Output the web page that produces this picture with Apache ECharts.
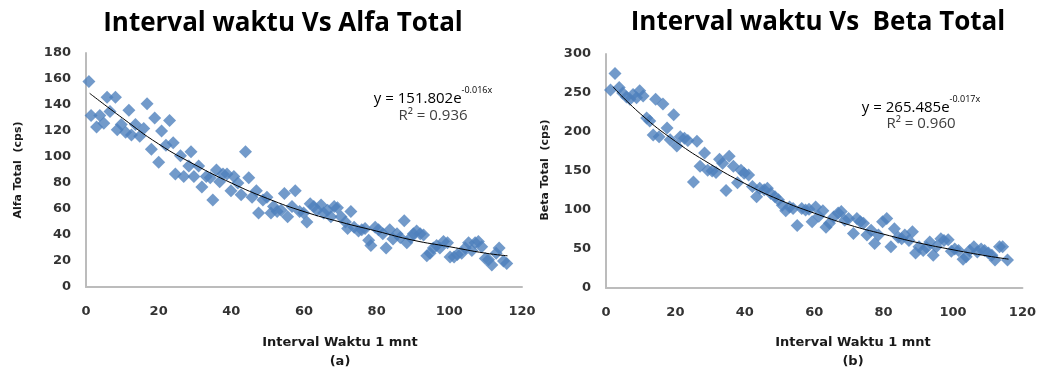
<!DOCTYPE html>
<html>
<head>
<meta charset="utf-8">
<script src="https://cdn.jsdelivr.net/npm/echarts@6/dist/echarts.min.js"></script>
<style>
  html, body { margin: 0; padding: 0; background: #fff; }
  #chart { width: 1039px; height: 372px; }
</style>
</head>
<body>
<div id="chart"></div>
<script>
// Alfa total (cps) vs interval
const alfaPoints = [
  [0.8, 158], [1.4, 132], [2.9, 123], [3.8, 132], [4.9, 126], [5.8, 146], [6.6, 135], [8.1, 146],
  [8.6, 121], [9.7, 125], [10.9, 119], [11.8, 136], [12.5, 117], [13.6, 125], [14.8, 116], [15.9, 122],
  [16.8, 141], [18, 106], [18.9, 130], [20, 96], [20.8, 120], [22, 109], [23, 128], [24, 111],
  [24.6, 87], [26, 101], [26.9, 85], [28.3, 93], [28.9, 104], [29.7, 85], [31, 93], [31.9, 77],
  [33.1, 85], [34.2, 84], [34.9, 67], [35.9, 90], [36.8, 81], [37.7, 87], [38.8, 87], [39.9, 74],
  [40.7, 85], [41.8, 80], [42.7, 71], [43.9, 104], [44.8, 84], [45.7, 69], [46.9, 74], [47.5, 57],
  [48.7, 67], [49.8, 69], [50.9, 57], [51.6, 62], [52.6, 58], [53.7, 59], [54.6, 72], [55.5, 54],
  [56.7, 62], [57.6, 74], [58.8, 58], [59.9, 57], [60.8, 50], [61.7, 64], [62.7, 62], [63.6, 59],
  [64.7, 63], [65.4, 57], [66.5, 59], [67.4, 54], [68.3, 62], [69.2, 61], [70.2, 54], [71.4, 50],
  [72, 45], [72.9, 58], [73.8, 46], [75, 43], [75.9, 44], [76.8, 45], [77.8, 36], [78.4, 32],
  [79.6, 46], [80.5, 44], [81.7, 41], [82.6, 30], [83.6, 44], [84.5, 37], [85.6, 41], [86.5, 38],
  [87.6, 51], [88.3, 34], [89.4, 38], [90.1, 41], [91, 43], [92, 41], [92.9, 40], [93.8, 24],
  [94.7, 26], [95.6, 30], [96.5, 32], [97.4, 30], [98.4, 35], [99.5, 34], [100.2, 23], [101.3, 23],
  [102.2, 25], [103.4, 26], [104.4, 30], [105.3, 34], [106.2, 28], [107.1, 34], [108, 35], [108.9, 31],
  [109.9, 22], [110.8, 21], [111.7, 17], [112.9, 26], [113.7, 30], [114.9, 20], [115.8, 18]
];

// Beta total (cps) vs interval
const betaPoints = [
  [1.3, 254], [2.6, 275], [3.8, 257], [4.8, 250], [5.9, 245], [6.9, 242], [7.8, 248], [8.8, 244],
  [9.7, 253], [10.7, 246], [11.7, 218], [12.6, 214], [13.6, 196], [14.3, 242], [15.3, 194], [16.4, 236],
  [17.6, 205], [18.5, 190], [19.5, 222], [20.4, 182], [21.4, 194], [22.6, 192], [23.6, 189], [25.2, 136],
  [26.2, 188], [27.1, 156], [28.4, 173], [29.3, 151], [30.6, 150], [31.7, 148], [32.7, 165], [33.6, 160],
  [34.6, 125], [35.5, 169], [36.7, 156], [37.9, 135], [38.9, 151], [39.8, 147], [41.1, 145], [42.2, 130],
  [43.4, 117], [44.3, 128], [45.6, 126], [46.5, 128], [47.5, 121], [48.7, 117], [49.7, 113], [50.8, 106],
  [51.8, 99], [52.9, 104], [53.9, 102], [55.1, 80], [56.4, 102], [57.5, 100], [58.5, 101], [59.4, 85],
  [60.4, 104], [61.3, 92], [62.5, 99], [63.4, 78], [64.4, 83], [65.6, 91], [66.9, 96], [67.8, 98],
  [68.8, 87], [69.9, 89], [71.3, 70], [72.3, 89], [73.3, 85], [74.2, 83], [75.2, 68], [76.4, 74],
  [77.4, 57], [78.5, 68], [79.7, 85], [80.9, 89], [82.1, 53], [83.1, 76], [84.2, 65], [85.2, 63],
  [86.1, 68], [87.3, 61], [88.3, 72], [89.2, 45], [90.2, 53], [91.4, 48], [92.4, 52], [93.3, 59],
  [94.3, 42], [95.2, 53], [96.5, 63], [97.4, 61], [98.6, 62], [99.5, 47], [100.5, 50], [101.6, 48],
  [102.9, 37], [103.8, 40], [104.8, 48], [106, 53], [107, 46], [108.1, 50], [109.1, 48], [110.2, 45],
  [111.2, 42], [112.1, 36], [113.4, 53], [114.3, 53], [115.7, 36]
];

// exponential trend lines
const alfaTrend = [[1, 149], [10, 130], [20, 110], [30, 94], [40, 80], [50, 68], [60, 58], [70, 50], [80, 43], [90, 36], [100, 31], [110, 26], [116, 24]];
const betaTrend = [[2, 258], [10, 223], [20, 188], [30, 159], [40, 134], [50, 113], [60, 96], [70, 81], [80, 69], [90, 58], [100, 49], [110, 41], [116, 37]];

const blue = "#4f81bd";
const tickFont = { fontFamily: "DejaVu Sans", fontWeight: "bold", fontSize: 13, color: "#333" };

const chart = echarts.init(document.getElementById("chart"));

function xAx(gridIndex) {
  return {
    type: "value", gridIndex, min: 0, max: 120, interval: 20,
    axisLine: { onZero: false, lineStyle: { color: "#bcbcbc", width: 2 } },
    axisTick: { show: false },
    splitLine: { show: false },
    axisLabel: { ...tickFont, margin: 18 },
  };
}
function yAx(gridIndex, max, interval) {
  return {
    type: "value", gridIndex, min: 0, max, interval,
    axisLine: { show: true, lineStyle: { color: "#bcbcbc", width: 2 } },
    axisTick: { show: false },
    splitLine: { show: false },
    axisLabel: { ...tickFont, margin: 15 },
  };
}
function txt(x, y, text, style, rot) {
  return {
    type: "text", x, y, rotation: rot || 0,
    style: { text, align: "center", verticalAlign: "middle", fill: "#000", ...style },
  };
}
const titleStyle = { fontFamily: "Open Sans", fontWeight: "bold", fontSize: 26 };
const axTitle = { fontFamily: "DejaVu Sans", fontWeight: "bold", fontSize: 13, fill: "#1a1a1a" };
const eqRich = {
  b: { fontFamily: "Open Sans", fontSize: 15, color: "#404040", lineHeight: 20, verticalAlign: "bottom" },
  s: { fontFamily: "Open Sans", fontSize: 9, color: "#404040", lineHeight: 20, verticalAlign: "top" },
};
const r2Style = { fontFamily: "Open Sans", fontSize: 15, fill: "#404040" };

chart.setOption({
  animation: false,
  grid: [
    { left: 86, top: 53, width: 436, height: 234 },
    { left: 606, top: 54, width: 419, height: 234 },
  ],
  xAxis: [xAx(0), xAx(1)],
  yAxis: [yAx(0, 180, 20), yAx(1, 300, 50)],
  series: [
    { type: "scatter", xAxisIndex: 0, yAxisIndex: 0, symbol: "diamond", symbolSize: 13, itemStyle: { color: blue }, data: alfaPoints },
    { type: "line", xAxisIndex: 0, yAxisIndex: 0, smooth: true, showSymbol: false, lineStyle: { color: "#000", width: 1 }, data: alfaTrend },
    { type: "scatter", xAxisIndex: 1, yAxisIndex: 1, symbol: "diamond", symbolSize: 13, itemStyle: { color: blue }, data: betaPoints },
    { type: "line", xAxisIndex: 1, yAxisIndex: 1, smooth: true, showSymbol: false, lineStyle: { color: "#000", width: 1 }, data: betaTrend },
  ],
  graphic: [
    txt(283, 24, "Interval waktu Vs Alfa Total", titleStyle),
    txt(818, 23, "Interval waktu Vs  Beta Total", titleStyle),
    txt(18, 170, "Alfa Total  (cps)", { ...axTitle, fontSize: 11 }, Math.PI / 2),
    txt(545, 170, "Beta Total  (cps)", { ...axTitle, fontSize: 11 }, Math.PI / 2),
    txt(340, 343, "Interval Waktu 1 mnt", axTitle),
    txt(340, 362, "(a)", axTitle),
    txt(853, 343, "Interval Waktu 1 mnt", axTitle),
    txt(853, 362, "(b)", axTitle),
    { type: "text", x: 433, y: 96, style: { text: "{b|y = 151.802e}{s|-0.016x}", rich: eqRich, align: "center", verticalAlign: "middle" } },
    txt(433, 116, "R² = 0.936", r2Style),
    { type: "text", x: 921, y: 105, style: { text: "{b|y = 265.485e}{s|-0.017x}", rich: eqRich, align: "center", verticalAlign: "middle" } },
    txt(921, 124, "R² = 0.960", r2Style),
  ],
});
</script>
</body>
</html>
